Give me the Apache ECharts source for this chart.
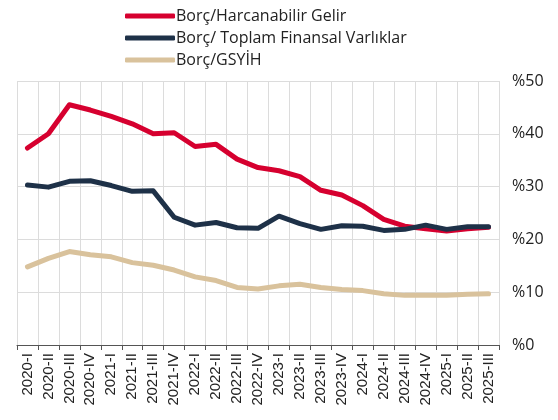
<!DOCTYPE html>
<html lang="tr">
<head>
<meta charset="UTF-8">
<title>Borç oranları</title>
<script src="https://cdn.jsdelivr.net/npm/echarts@6/dist/echarts.min.js"></script>
<style>
  html, body { margin: 0; padding: 0; background: #fff; }
  #main { width: 558px; height: 420px; }
</style>
</head>
<body>
<div id="main"></div>
<script>
// çeyrekler
var quarters = ['2020-I', '2020-II', '2020-III', '2020-IV',
  '2021-I', '2021-II', '2021-III', '2021-IV',
  '2022-I', '2022-II', '2022-III', '2022-IV',
  '2023-I', '2023-II', '2023-III', '2023-IV',
  '2024-I', '2024-II', '2024-III', '2024-IV',
  '2025-I', '2025-II', '2025-III'];

var borcHarcanabilir = [37.3, 40.0, 45.5, 44.5, 43.3, 41.9, 40.0, 40.2, 37.6, 38.0, 35.2, 33.6,
  33.0, 31.9, 29.3, 28.4, 26.4, 23.8, 22.5, 22.0, 21.6, 22.0, 22.3];
var borcFinansal = [30.3, 29.9, 31.0, 31.1, 30.2, 29.1, 29.2, 24.2, 22.7, 23.2, 22.2, 22.1,
  24.4, 23.0, 21.9, 22.6, 22.5, 21.7, 21.9, 22.7, 21.9, 22.4, 22.4];
var borcGsyih = [14.8, 16.4, 17.7, 17.1, 16.7, 15.6, 15.1, 14.2, 12.9, 12.2, 10.9, 10.6,
  11.2, 11.5, 10.9, 10.5, 10.3, 9.7, 9.4, 9.4, 9.4, 9.6, 9.7];

var myChart = echarts.init(document.getElementById('main'));

function lineSeries(name, data, color) {
  return {
    name: name,
    type: 'line',
    data: data,
    symbol: 'none',
    lineStyle: { color: color, width: 5, cap: 'round', join: 'round' },
    itemStyle: { color: color },
    animation: false
  };
}

var option = {
  textStyle: { fontFamily: 'Open Sans' },
  legend: {
    orient: 'vertical',
    left: 120,
    top: 3,
    itemWidth: 50,
    itemHeight: 5,
    itemGap: 6,
    icon: 'roundRect',
    textStyle: { fontSize: 16, color: '#222', fontFamily: 'Open Sans', padding: [0, 0, 0, -4] }
  },
  grid: { left: 17, right: 59, top: 81, bottom: 75 },
  xAxis: {
    type: 'category',
    data: quarters,
    boundaryGap: true,
    axisLine: { lineStyle: { color: '#555', width: 1 } },
    axisTick: { show: true, length: 5, lineStyle: { color: '#555' } },
    axisLabel: {
      rotate: 90,
      interval: 0,
      fontSize: 15,
      color: '#222',
      fontFamily: 'Liberation Sans',
      margin: 8
    },
    splitLine: { show: true, lineStyle: { color: '#dcdcdc', width: 1 } }
  },
  yAxis: {
    type: 'value',
    position: 'right',
    min: 0,
    max: 50,
    interval: 10,
    axisLine: { show: false },
    axisTick: { show: false },
    axisLabel: {
      formatter: '%{value}',
      fontSize: 16,
      color: '#222',
      margin: 13
    },
    splitLine: { lineStyle: { color: '#dcdcdc', width: 1 } }
  },
  series: [
    lineSeries('Borç/Harcanabilir Gelir', borcHarcanabilir, '#d6002f'),
    lineSeries('Borç/ Toplam Finansal Varlıklar', borcFinansal, '#1e3148'),
    lineSeries('Borç/GSYİH', borcGsyih, '#d9c29c')
  ]
};

myChart.setOption(option);
</script>
</body>
</html>
